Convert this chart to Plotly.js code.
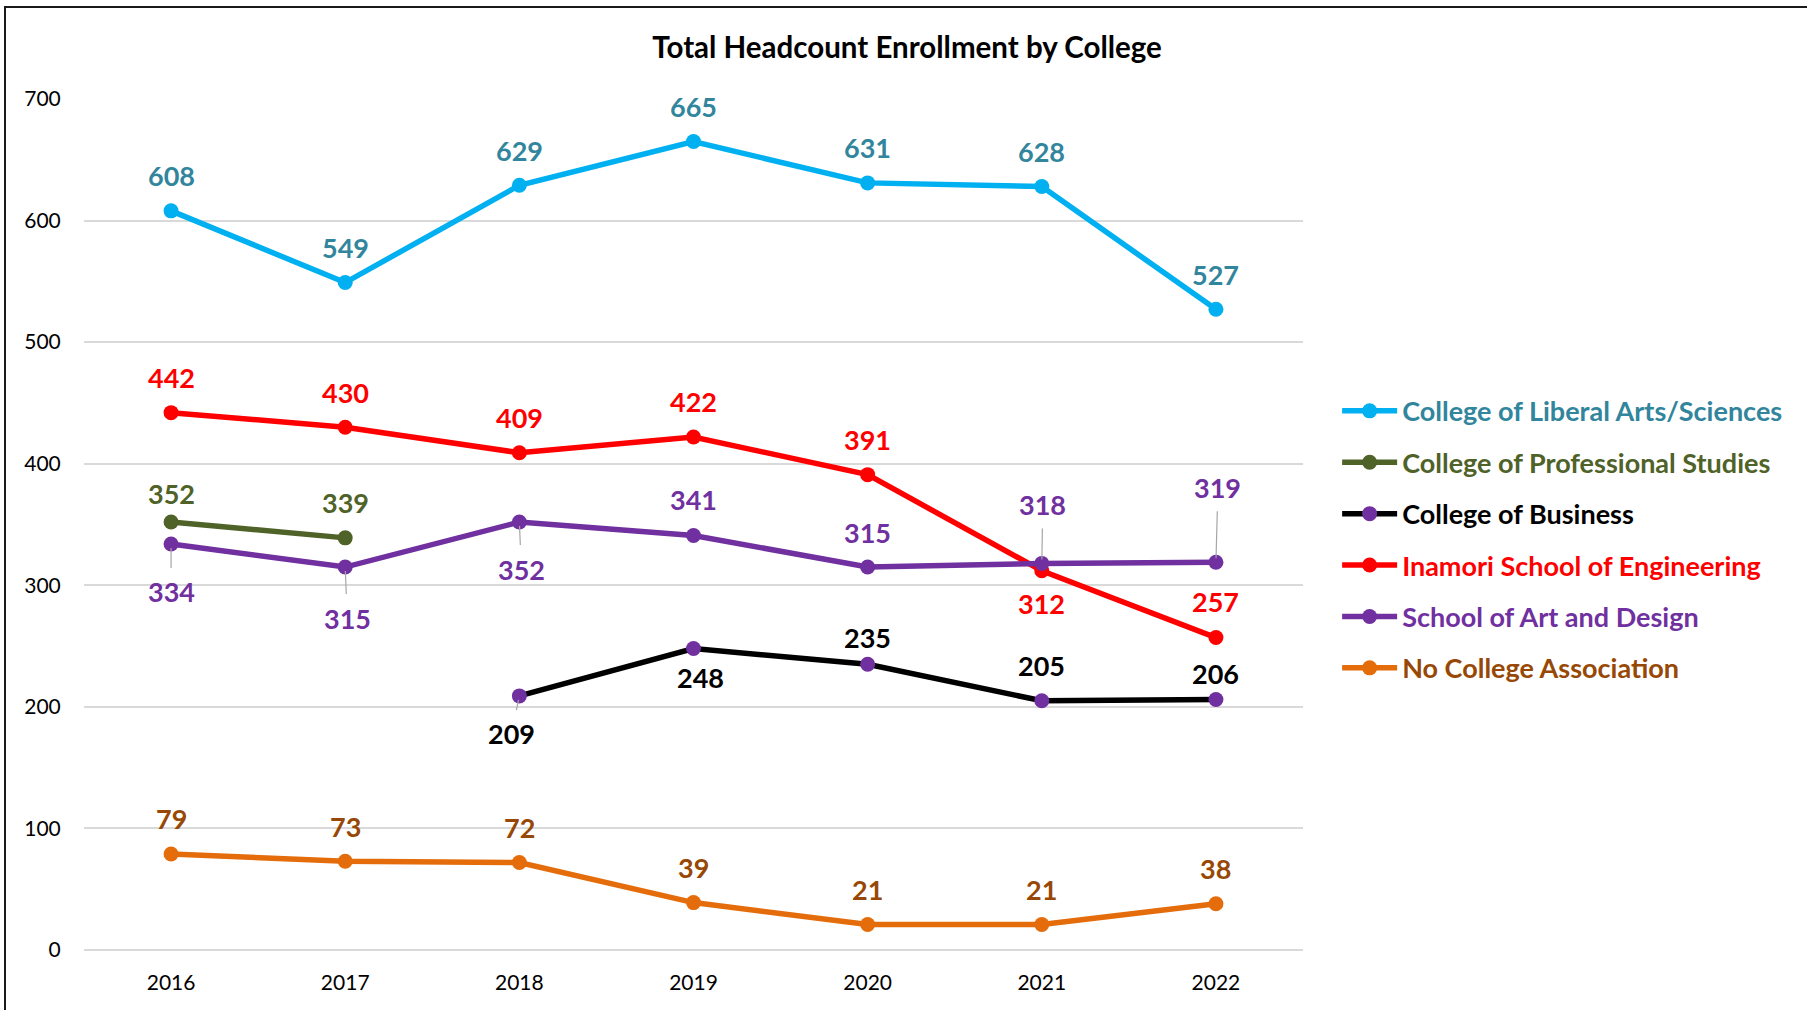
<!DOCTYPE html>
<html>
<head>
<meta charset="utf-8">
<script src="https://cdn.plot.ly/plotly-3.0.1.min.js"></script>
<style>
  html, body { margin: 0; padding: 0; background: #fff; overflow: hidden; }
  #chart { width: 1807px; height: 1010px; }
  #frame { position: absolute; left: 4px; top: 6px; width: 2200px; height: 2200px;
           border: 2px solid #1a1a1a; pointer-events: none; }
</style>
</head>
<body>
<div id="chart"></div>
<div id="frame"></div>
<script>
// ---- Data ----
const years = ['2016', '2017', '2018', '2019', '2020', '2021', '2022'];
const liberalArts  = [608, 549, 629, 665, 631, 628, 527];
const professional = [352, 339, null, null, null, null, null];
const business     = [null, null, 209, 248, 235, 205, 206];
const engineering  = [442, 430, 409, 422, 391, 312, 257];
const artDesign    = [334, 315, 352, 341, 315, 318, 319];
const noCollege    = [79, 73, 72, 39, 21, 21, 38];

const seriesNames = [
  'College of Liberal Arts/Sciences',
  'College of Professional Studies',
  'College of Business',
  'Inamori School of Engineering',
  'School of Art and Design',
  'No College Association'
];

// ---- Styles ----
const FONT = 'Lato, "Open Sans", sans-serif';
const styles = [
  { line: '#00B0F0', marker: '#00B0F0', label: '#31859C' },
  { line: '#4F6228', marker: '#4F6228', label: '#4F6228' },
  { line: '#000000', marker: '#7030A0', label: '#000000' },
  { line: '#FF0000', marker: '#FF0000', label: '#FF0000' },
  { line: '#7030A0', marker: '#7030A0', label: '#7030A0' },
  { line: '#E46C0A', marker: '#E46C0A', label: '#974806' }
];
const seriesValues = [liberalArts, professional, business, engineering, artDesign, noCollege];

// label placement per point: [xshift, yshift] (plain) or {ax, ay} (with leader line)
const U = [0, 35];
const labelPlacement = [
  [U, U, U, U, U, U, U],
  [[0, 29], U, null, null, null, null, null],
  [null, null, {ax: -8, ay: 38}, [7, -29], [0, 27], U, [0, 26]],
  [U, U, U, U, U, [0, -33], [0, 36]],
  [{ax: 0, ay: 48}, {ax: 2, ay: 51}, {ax: 2, ay: 47}, [0, 36], U, {ax: 1, ay: -59}, {ax: 2, ay: -75}],
  [U, U, U, U, U, U, U]
];

const traces = seriesValues.map((vals, i) => ({
  type: 'scatter',
  mode: 'lines+markers',
  x: years,
  y: vals,
  name: '<b><span style="color:' + styles[i].label + '">' + seriesNames[i] + '</span></b>',
  legendgroup: 'g' + i,
  line: { color: styles[i].line, width: 5.5 },
  marker: { color: styles[i].marker, size: 15 },
  connectgaps: false,
  hoverinfo: 'x+y'
}));

const annotations = [];
seriesValues.forEach((vals, i) => {
  vals.forEach((v, j) => {
    if (v === null) return;
    const p = labelPlacement[i][j];
    const base = {
      x: j, y: v, xref: 'x', yref: 'y',
      text: '<b>' + v + '</b>',
      font: { family: FONT, size: 27, color: styles[i].label }
    };
    if (Array.isArray(p)) {
      annotations.push(Object.assign(base, { showarrow: false, xshift: p[0], yshift: p[1] }));
    } else {
      annotations.push(Object.assign(base, {
        showarrow: true, arrowhead: 0, arrowwidth: 1.2, arrowcolor: '#A6A6A6',
        ax: p.ax, ay: p.ay, standoff: 4, startstandoff: 6
      }));
    }
  });
});

const layout = {
  width: 1807, height: 1010,
  margin: { l: 84, r: 504, t: 99, b: 60 },
  paper_bgcolor: '#ffffff', plot_bgcolor: '#ffffff',
  font: { family: FONT, color: '#000' },
  title: {
    text: '<b>Total Headcount Enrollment by College</b>',
    font: { family: FONT, size: 29.5, color: '#000' },
    x: 0.502, xref: 'container', xanchor: 'center',
    y: 0.953, yref: 'container', yanchor: 'middle'
  },
  xaxis: {
    type: 'category', range: [-0.5, 6.5],
    showgrid: false, zeroline: false, showline: false,
    ticks: 'outside', ticklen: 14, tickcolor: 'rgba(0,0,0,0)',
    tickfont: { family: FONT, size: 21, color: '#000' }
  },
  yaxis: {
    range: [0, 700], dtick: 100, tick0: 0,
    showgrid: true, gridcolor: '#D9D9D9', gridwidth: 2,
    zeroline: true, zerolinecolor: '#D9D9D9', zerolinewidth: 2,
    showline: false,
    ticks: 'outside', ticklen: 18, tickcolor: 'rgba(0,0,0,0)',
    tickfont: { family: FONT, size: 21, color: '#000' }
  },
  legend: {
    x: 1.028, xanchor: 'left', y: 0.482, yanchor: 'middle',
    font: { family: FONT, size: 27 },
    traceorder: 'grouped', tracegroupgap: 13.3, itemwidth: 55,
    bgcolor: 'rgba(0,0,0,0)'
  },
  annotations: annotations,
  showlegend: true
};

Plotly.newPlot('chart', traces, layout, { displayModeBar: false, staticPlot: true });
</script>
</body>
</html>
